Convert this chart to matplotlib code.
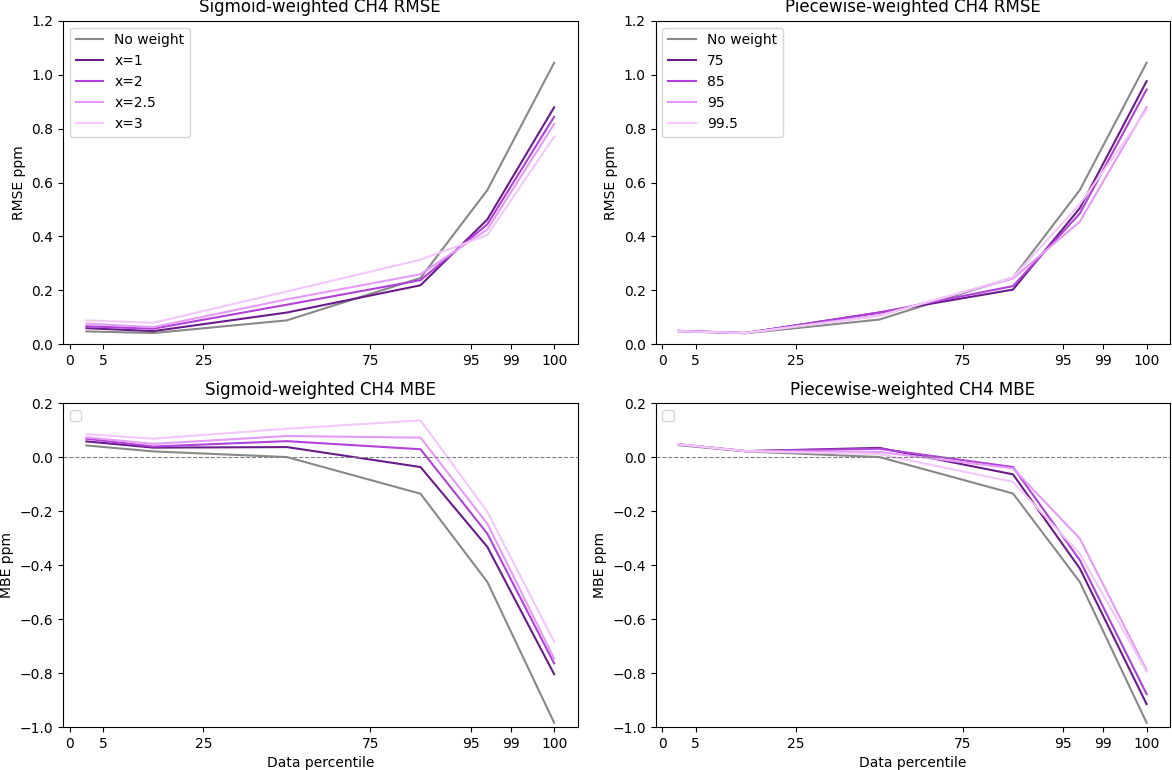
import numpy as np
import matplotlib
matplotlib.use("Agg")
import matplotlib.pyplot as plt

# bin centres on the plotting axis and the percentile ticks
x_pos = [0.5, 2.5, 6.5, 10.5, 12.5, 14.5]
tick_pos = [0, 1, 4, 9, 12, 13.2, 14.5]
tick_labels = ['0', '5', '25', '75', '95', '99', '100']

colors = ['#888888', '#6a1b8a', '#b041d9', '#e59af9', '#f2c8fb']

sig_labels = ['No weight', 'x=1', 'x=2', 'x=2.5', 'x=3']
sig_rmse = [
    [0.048, 0.042, 0.089, 0.246, 0.572, 1.044],
    [0.060, 0.049, 0.118, 0.219, 0.463, 0.879],
    [0.067, 0.058, 0.147, 0.238, 0.445, 0.844],
    [0.077, 0.064, 0.167, 0.260, 0.426, 0.817],
    [0.089, 0.080, 0.196, 0.314, 0.405, 0.770],
]
sig_mbe = [
    [0.044, 0.022, 0.001, -0.135, -0.462, -0.984],
    [0.059, 0.036, 0.038, -0.036, -0.332, -0.804],
    [0.069, 0.040, 0.060, 0.030, -0.283, -0.764],
    [0.074, 0.050, 0.079, 0.073, -0.246, -0.746],
    [0.086, 0.069, 0.106, 0.137, -0.202, -0.684],
]

pw_labels = ['No weight', '75', '85', '95', '99.5']
pw_rmse = [
    [0.048, 0.041, 0.092, 0.248, 0.572, 1.044],
    [0.050, 0.042, 0.118, 0.203, 0.505, 0.976],
    [0.050, 0.042, 0.118, 0.216, 0.485, 0.945],
    [0.049, 0.042, 0.108, 0.244, 0.455, 0.880],
    [0.049, 0.042, 0.105, 0.248, 0.520, 0.868],
]
pw_mbe = [
    [0.045, 0.022, 0.001, -0.134, -0.462, -0.984],
    [0.048, 0.023, 0.035, -0.063, -0.412, -0.915],
    [0.048, 0.023, 0.032, -0.036, -0.381, -0.878],
    [0.048, 0.023, 0.020, -0.041, -0.301, -0.789],
    [0.048, 0.023, 0.012, -0.091, -0.357, -0.795],
]

fig, axs = plt.subplots(2, 2, figsize=(11.72, 7.7), dpi=100)
fig.subplots_adjust(left=0.0538, right=0.9983, top=0.9731, bottom=0.0558,
                    wspace=0.1516, hspace=0.1824)

panels = [
    (axs[0, 0], sig_rmse, sig_labels, 'Sigmoid-weighted CH4 RMSE', 'RMSE ppm'),
    (axs[0, 1], pw_rmse, pw_labels, 'Piecewise-weighted CH4 RMSE', 'RMSE ppm'),
    (axs[1, 0], sig_mbe, sig_labels, 'Sigmoid-weighted CH4 MBE', 'MBE ppm'),
    (axs[1, 1], pw_mbe, pw_labels, 'Piecewise-weighted CH4 MBE', 'MBE ppm'),
]

for i, (ax, data, labels, title, ylab) in enumerate(panels):
    for vals, lab, c in zip(data, labels, colors):
        ax.plot(x_pos, vals, color=c, label=lab, lw=1.5)
    ax.set_title(title)
    ax.set_ylabel(ylab)
    ax.set_xticks(tick_pos)
    ax.set_xticklabels(tick_labels)
    if i < 2:
        ax.set_ylim(0, 1.2)
        ax.set_yticks(np.arange(0, 1.21, 0.2))
        ax.legend(loc='upper left')
    else:
        ax.set_ylim(-1.0, 0.2)
        ax.set_yticks(np.arange(-1.0, 0.21, 0.2))
        ax.axhline(0, color='gray', ls='--', lw=0.8)
        ax.set_xlabel('Data percentile')
        ax.legend(handles=[], loc='upper left')

plt.savefig('out.png')
